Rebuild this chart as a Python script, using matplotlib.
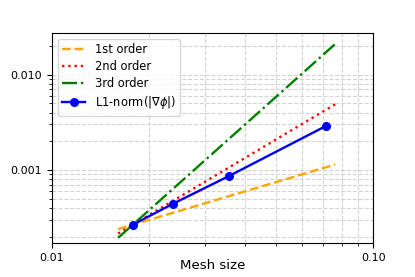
import matplotlib
matplotlib.use('Agg')
import matplotlib.pyplot as plt
from matplotlib.ticker import FormatStrFormatter, FixedLocator, NullFormatter
import numpy as np

# mesh sizes and measured error
mesh = [1/56, 1/42, 1/28, 1/14]
err_l1 = [2.68e-4, 4.44e-4, 8.72e-4, 2.90e-3]

# range covered by the reference slopes
h_ref = np.array([0.9 * mesh[0], 1.067 * mesh[-1]])

fig = plt.figure(figsize=(4.15, 2.77), dpi=100)
ax = fig.add_axes([0.125, 0.123, 0.774, 0.758])

for order, style, color, name in [(1, '--', 'orange', '1st order'),
                                  (2, ':', 'red', '2nd order'),
                                  (3, '-.', 'green', '3rd order')]:
    ax.plot(h_ref, err_l1[0] * (h_ref / mesh[0]) ** order,
            linestyle=style, color=color, lw=1.7, label=name)

ax.plot(mesh, err_l1, 'o-', color='blue', lw=1.7, ms=5.5,
        label=r'L1-norm($|\nabla\phi|$)')

ax.set_xscale('log')
ax.set_yscale('log')
ax.set_xlim(0.01, 0.1)
ax.set_ylim(1.73e-4, 0.0272)

ax.xaxis.set_major_locator(FixedLocator([0.01, 0.1]))
ax.yaxis.set_major_locator(FixedLocator([0.001, 0.01]))
ax.xaxis.set_major_formatter(FormatStrFormatter('%.2f'))
ax.yaxis.set_major_formatter(FormatStrFormatter('%.3f'))
ax.xaxis.set_minor_formatter(NullFormatter())
ax.yaxis.set_minor_formatter(NullFormatter())
ax.tick_params(labelsize=8)

ax.grid(True, which='both', linestyle='--', color='lightgray', lw=0.8)
ax.set_xlabel('Mesh size', fontsize=9.6)
ax.xaxis.set_label_coords(0.5, -0.078)
ax.legend(loc='upper left', fontsize=8.3, labelspacing=0.35)

fig.savefig('out.png', dpi=100)
